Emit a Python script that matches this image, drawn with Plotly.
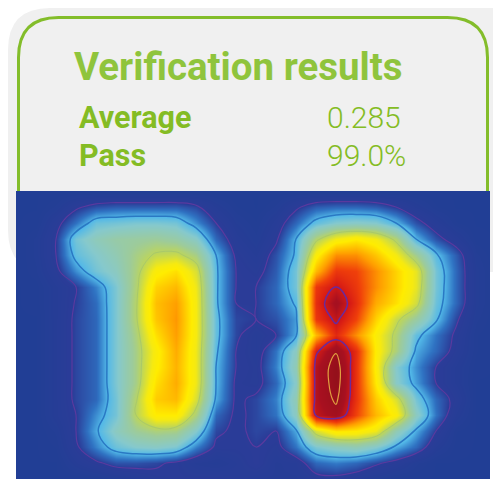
import plotly.graph_objects as go

W, H = 493, 479

title_text = "Verification results"
row_labels = ["Average", "Pass"]
row_values = ["0.285", "99.0%"]

# dose map, rows top to bottom, columns left to right
dose = [
 [.1,.1,.1,.1,.1,.1,.1,.1,.1,.1,.1,.1,.1,.1,.1,.1,.1,.1,.1,.1,.1,.1,.1,.1,.1],
 [.1,.1,.2,.45,.6,.65,.65,.65,.65,.55,.3,.15,.1,.2,.45,.65,.7,.7,.65,.5,.3,.15,.1,.1,.1],
 [.1,.12,.4,.75,1.15,1.2,1.25,1.25,1.2,.85,.5,.25,.15,.35,.7,1.1,1.3,1.35,1.3,1.0,.6,.35,.15,.1,.1],
 [.1,.2,.5,1.2,1.45,1.6,1.65,1.7,1.6,1.35,.7,.35,.2,.45,1.0,1.9,2.4,2.6,2.4,1.9,1.0,.6,.35,.12,.1],
 [.1,.2,.5,1.1,1.3,1.5,1.8,2.05,2.1,1.8,1.0,.45,.3,.6,1.05,2.5,3.3,3.3,2.9,2.4,1.75,1.05,.65,.2,.1],
 [.1,.18,.42,.85,1.2,1.4,1.85,2.5,2.7,2.2,1.05,.5,.4,.65,1.2,3.0,3.9,3.8,3.3,2.8,2.3,1.2,.7,.25,.1],
 [.1,.12,.3,.5,.8,1.25,1.9,2.8,3.0,2.35,1.05,.5,.5,.7,1.2,3.9,4.3,3.9,3.3,2.8,2.3,1.2,.7,.25,.1],
 [.1,.12,.3,.52,.72,1.25,1.95,2.95,3.2,2.4,1.05,.5,.5,.7,1.05,4.0,4.7,4.0,3.1,2.7,2.15,1.15,.7,.25,.1],
 [.1,.1,.3,.55,.7,1.25,1.95,2.9,3.25,2.4,1.1,.55,.5,.6,.9,3.9,4.4,3.8,2.8,2.1,1.65,1.05,.55,.2,.1],
 [.1,.1,.3,.55,.7,1.25,1.85,2.7,3.2,2.4,1.1,.55,.35,.5,.95,3.0,4.05,3.3,2.5,1.9,1.1,.75,.45,.15,.1],
 [.1,.1,.3,.55,.7,1.25,1.8,2.5,3.1,2.35,1.05,.5,.35,.75,1.4,4.2,4.9,4.0,2.55,1.85,.95,.7,.4,.15,.1],
 [.1,.1,.3,.55,.7,1.25,1.8,2.55,3.05,2.35,1.0,.5,.4,.8,1.5,4.5,5.2,3.95,2.5,1.3,.85,.5,.3,.12,.1],
 [.1,.1,.3,.55,.7,1.25,1.8,2.7,3.1,2.35,1.0,.45,.4,.7,1.35,4.5,5.2,3.95,2.6,1.35,.9,.5,.3,.1,.1],
 [.1,.1,.3,.55,.7,1.2,1.95,2.85,3.0,2.2,.95,.45,.55,.8,1.5,4.5,5.05,3.95,2.85,2.2,1.2,.7,.4,.1,.1],
 [.1,.1,.3,.5,.85,1.2,2.0,2.6,2.6,1.85,.7,.45,.55,.75,1.4,4.4,4.75,3.8,3.0,2.5,1.4,.75,.3,.1,.1],
 [.1,.1,.2,.5,.95,1.4,1.7,1.85,1.8,1.3,.55,.45,.55,.5,.95,2.2,2.65,2.6,2.35,1.5,.95,.5,.15,.1,.1],
 [.1,.1,.15,.45,.8,1.15,1.3,1.35,1.25,.8,.45,.45,.5,.4,.75,1.25,1.4,1.5,1.3,.95,.7,.3,.12,.1,.1],
 [.1,.1,.1,.3,.45,.6,.6,.55,.45,.3,.25,.35,.5,.3,.35,.7,.78,.7,.55,.4,.2,.1,.1,.1,.1],
 [.1,.1,.1,.1,.12,.2,.3,.4,.45,.45,.45,.4,.3,.3,.3,.4,.42,.35,.2,.1,.1,.1,.1,.1,.1],
]

grid_x0, grid_dx = 16, 20
grid_y0, grid_dy = 191, 16
map_left, map_right, map_top = 16, 490, 191

colorscale = [
 [0/5.5, "#1f3f94"], [.5/5.5, "#2b3c98"], [.75/5.5, "#2f72c2"], [1.0/5.5, "#52b8e8"],
 [1.3/5.5, "#86c9cc"], [1.7/5.5, "#9dcb9a"], [2.0/5.5, "#bcd55c"], [2.4/5.5, "#f6ea10"],
 [2.6/5.5, "#ffec00"], [3.2/5.5, "#ff9f00"], [3.8/5.5, "#f0400a"], [4.2/5.5, "#d81c14"],
 [4.6/5.5, "#a81020"], [5.5/5.5, "#8a1018"],
]
contour_levels = [0.5, 1.0, 2.0, 4.3, 4.95]
contour_colors = ["#5a3a9e", "#2a79c4", "#a9c96a", "#6a2a9c", "#e2a040"]
contour_widths = [1.2, 1.5, 1, 1.5, 1.2]

fx = lambda v: v / W
fy = lambda v: 1 - v / H

def round_rect(x0, y0, x1, y1, r, bottom=True):
    p = [f"M {fx(x0)} {fy(y1)}"]
    if bottom:
        p = [f"M {fx(x0 + r)} {fy(y1)}", f"Q {fx(x0)} {fy(y1)} {fx(x0)} {fy(y1 - r)}"]
    p.append(f"L {fx(x0)} {fy(y0 + r)}")
    p.append(f"Q {fx(x0)} {fy(y0)} {fx(x0 + r)} {fy(y0)}")
    p.append(f"L {fx(x1 - r)} {fy(y0)}")
    p.append(f"Q {fx(x1)} {fy(y0)} {fx(x1)} {fy(y0 + r)}")
    p.append(f"L {fx(x1)} {fy(y1 - r) if bottom else fy(y1)}")
    if bottom:
        p.append(f"Q {fx(x1)} {fy(y1)} {fx(x1 - r)} {fy(y1)} Z")
    return " ".join(p)

fig = go.Figure()
fig.add_trace(go.Heatmap(z=dose, x0=grid_x0, dx=grid_dx, y0=grid_y0, dy=grid_dy,
                         colorscale=colorscale, zmin=0, zmax=5.5, zsmooth="best",
                         showscale=False, hoverinfo="skip"))
for lev, col, wid in zip(contour_levels, contour_colors, contour_widths):
    fig.add_trace(go.Contour(z=dose, x0=grid_x0, dx=grid_dx, y0=grid_y0, dy=grid_dy,
                             autocontour=False,
                             contours=dict(coloring="none", start=lev, end=lev, size=1),
                             line=dict(color=col, width=wid, smoothing=1.2),
                             showscale=False, hoverinfo="skip"))

green_title = "#8fc43c"
green = "#84bc24"
font = "Roboto"
notes = [dict(x=72, y=66, text=title_text, size=38.5, color=green_title, weight=700)]
for i, (lab, val) in enumerate(zip(row_labels, row_values)):
    y = 117 + i * 38
    notes.append(dict(x=77, y=y, text=lab, size=30.5, color=green, weight=700))
    notes.append(dict(x=325, y=y, text=val, size=30, color=green, weight=300))

fig.update_layout(
    width=W, height=H, margin=dict(l=0, r=0, t=0, b=0), autosize=False,
    paper_bgcolor="white", plot_bgcolor="rgba(0,0,0,0)", showlegend=False,
    xaxis=dict(domain=[map_left / W, map_right / W], range=[map_left, map_right],
               visible=False, fixedrange=True),
    yaxis=dict(domain=[0, 1 - map_top / H], range=[H, map_top], visible=False, fixedrange=True),
    shapes=[
        dict(type="path", xref="paper", yref="paper", layer="below", line_width=0,
             fillcolor="#f0f0f0", path=round_rect(8, 8, 535, 272, 42)),
        dict(type="path", xref="paper", yref="paper", layer="below",
             line=dict(color="#83bd2a", width=3), fillcolor="rgba(0,0,0,0)",
             path=round_rect(18.5, 17.5, 487.5, 195, 40, bottom=False)),
    ],
    annotations=[dict(xref="paper", yref="paper", x=fx(n["x"]), y=fy(n["y"]),
                      xanchor="left", yanchor="middle", showarrow=False, text=n["text"],
                      font=dict(family=font, size=n["size"], color=n["color"], weight=n["weight"]))
                 for n in notes],
)
fig.write_html("out.html", config=dict(displayModeBar=False),
               post_script="document.body.style.margin='0';document.documentElement.style.overflow='hidden';")
